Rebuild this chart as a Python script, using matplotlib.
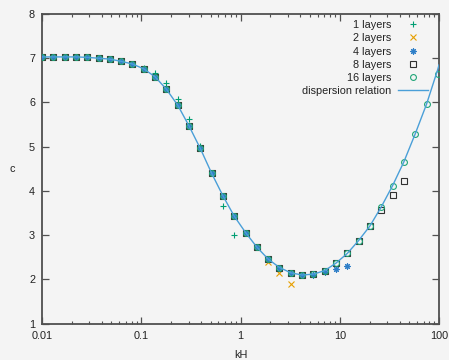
import matplotlib
matplotlib.use("Agg")
import matplotlib.pyplot as plt
from matplotlib.ticker import FixedLocator, FixedFormatter, NullFormatter

plt.rcParams['font.family'] = ['Liberation Sans', 'DejaVu Sans']

# sampled kH values (shared by all series)
kh = [0.01, 0.013, 0.0169, 0.02197, 0.02856, 0.03713, 0.04827, 0.06275, 0.08157,
      0.106, 0.1379, 0.1792, 0.233, 0.3029, 0.3937, 0.5119, 0.6654, 0.865,
      1.125, 1.462, 1.901, 2.471, 3.212, 4.175, 5.428, 7.056, 9.173, 11.93,
      15.50, 20.15, 26.20, 34.06, 44.28, 57.57, 74.84, 97.27]

layers1 = [7.03, 7.03, 7.03, 7.03, 7.02, 7.00, 6.98, 6.93, 6.87, 6.77, 6.66, 6.43,
           6.09, 5.63, 5.02, 4.40, 3.67, 3.00]
layers2 = [7.03, 7.03, 7.03, 7.03, 7.02, 7.00, 6.98, 6.93, 6.87, 6.76, 6.58, 6.30,
           5.94, 5.47, 4.96, 4.40, 3.89, 3.43, 3.06, 2.73, 2.40, 2.14, 1.89]
layers4 = [7.03, 7.03, 7.03, 7.03, 7.02, 7.00, 6.98, 6.93, 6.87, 6.76, 6.58, 6.30,
           5.94, 5.47, 4.96, 4.40, 3.89, 3.43, 3.06, 2.73, 2.46, 2.27, 2.15, 2.10,
           2.11, 2.17, 2.23, 2.31]
layers8 = [7.03, 7.03, 7.03, 7.03, 7.02, 7.00, 6.98, 6.93, 6.87, 6.76, 6.58, 6.30,
           5.94, 5.47, 4.96, 4.40, 3.89, 3.43, 3.06, 2.73, 2.46, 2.27, 2.15, 2.10,
           2.12, 2.20, 2.37, 2.59, 2.88, 3.21, 3.57, 3.92, 4.23]
layers16 = [7.03, 7.03, 7.03, 7.03, 7.02, 7.00, 6.98, 6.93, 6.87, 6.76, 6.58, 6.30,
            5.94, 5.47, 4.96, 4.40, 3.89, 3.43, 3.06, 2.73, 2.46, 2.27, 2.15, 2.10,
            2.12, 2.20, 2.37, 2.59, 2.88, 3.21, 3.64, 4.12, 4.66, 5.29, 5.96, 6.64]

disp_kh = kh + [100.0]
disp_c = [7.03, 7.03, 7.03, 7.03, 7.02, 7.00, 6.98, 6.93, 6.87, 6.76, 6.58, 6.30,
          5.94, 5.47, 4.96, 4.40, 3.89, 3.43, 3.06, 2.73, 2.46, 2.27, 2.15, 2.10,
          2.12, 2.20, 2.37, 2.59, 2.88, 3.21, 3.64, 4.12, 4.66, 5.29, 5.96, 6.75, 6.85]

xticks = [0.01, 0.1, 1, 10, 100]
xtick_labels = ['0.01', '0.1', '1', '10', '100']
yticks = [1, 2, 3, 4, 5, 6, 7, 8]

W, H = 449, 360
bg = '#f4f4f4'
fig = plt.figure(figsize=(W / 100, H / 100), dpi=100, facecolor=bg)
ax = fig.add_axes([42 / W, 1 - 323.7 / H, (439 - 42) / W, (323.7 - 14) / H])
ax.set_facecolor(bg)

fs = 7.8
ax.plot(kh[:len(layers1)], layers1, ls='none', marker='+', ms=4.5, mew=0.8,
        color='#009e73', label='1 layers', zorder=3)
ax.plot(kh[:len(layers2)], layers2, ls='none', marker='x', ms=3.8, mew=0.8,
        color='#e69f00', label='2 layers', zorder=3)
ax.plot(kh[:len(layers4)], layers4, ls='none', marker=(8, 2, 0), ms=4.5, mew=0.8,
        color='#2f7fc8', label='4 layers', zorder=3)
ax.plot(kh[:len(layers8)], layers8, ls='none', marker='s', ms=4.0, mew=0.8,
        mfc='none', mec='#303030', label='8 layers', zorder=3)
ax.plot(kh[:len(layers16)], layers16, ls='none', marker='o', ms=4.2, mew=0.8,
        mfc='none', mec='#1fa577', label='16 layers', zorder=3)
ax.plot(disp_kh, disp_c, '-', color='#4a9fd8', lw=1.0, label='dispersion relation',
        zorder=4)

ax.set_xscale('log')
ax.set_xlim(0.01, 100)
ax.set_ylim(1, 8)
ax.xaxis.set_major_locator(FixedLocator(xticks))
ax.xaxis.set_major_formatter(FixedFormatter(xtick_labels))
minor = [m * 10.0 ** e for e in range(-2, 2) for m in range(2, 10)]
ax.xaxis.set_minor_locator(FixedLocator(minor))
ax.xaxis.set_minor_formatter(NullFormatter())
ax.set_yticks(yticks)
ax.set_yticklabels([str(v) for v in yticks])

tc = '#505050'
for s in ax.spines.values():
    s.set_color(tc)
    s.set_linewidth(1.3)
ax.tick_params(which='both', direction='in', top=True, right=True, color=tc,
               labelsize=fs, labelcolor='#222222')
ax.tick_params(which='major', length=5, width=0.9, pad=5)
ax.tick_params(which='minor', length=2.5, width=0.8)

ax.set_xlabel('kH', fontsize=fs, color='#222222', labelpad=7)
ax.set_ylabel('c', fontsize=fs, color='#222222', labelpad=12, rotation=0, va='center')

leg = ax.legend(loc='upper right', bbox_to_anchor=((428 - 42) / 397, (323.7 - 20) / 309.7),
                frameon=False, markerfirst=False, fontsize=fs, numpoints=1,
                handlelength=2.8, handletextpad=0.6, labelspacing=0.3,
                borderpad=0, borderaxespad=0)
for t in leg.get_texts():
    t.set_color('#222222')

fig.savefig('out.png', dpi=100, facecolor=bg)
